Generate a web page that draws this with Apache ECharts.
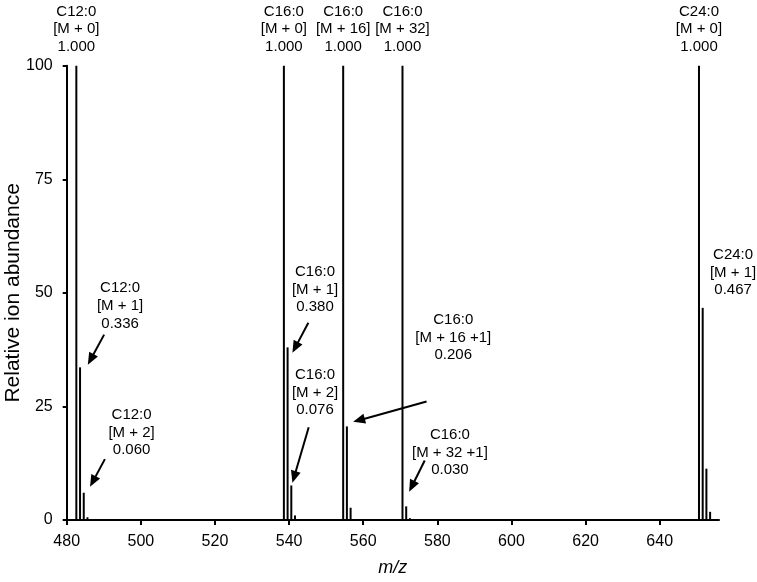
<!DOCTYPE html>
<html><head><meta charset="utf-8">
<script src="https://cdn.jsdelivr.net/npm/echarts@6/dist/echarts.min.js"></script>
<style>html,body{margin:0;padding:0;background:#fff}#c{width:757px;height:582px}</style>
</head><body><div id="c"></div>
<script>
// peak m/z positions
const mzValues = [482.6, 483.6, 484.6, 485.6, 538.6, 539.6, 540.6, 541.6, 554.6, 555.6, 556.6, 570.6, 571.6, 572.6, 650.6, 651.6, 652.6, 653.6];
// relative ion abundance (%)
const abundance = [100, 33.6, 6.0, 0.6, 100, 38.0, 7.6, 1.0, 100, 20.6, 2.7, 100, 3.0, 0.4, 100, 46.7, 11.3, 1.8];
const xTicks = [480, 500, 520, 540, 560, 580, 600, 620, 640];
const yTicks = [0, 25, 50, 75, 100];
// labels above the base peaks
const topLabels = [
  {mz: 482.6, text: 'C12:0\n[M + 0]\n1.000'},
  {mz: 538.6, text: 'C16:0\n[M + 0]\n1.000'},
  {mz: 554.6, text: 'C16:0\n[M + 16]\n1.000'},
  {mz: 570.6, text: 'C16:0\n[M + 32]\n1.000'},
  {mz: 650.6, text: 'C24:0\n[M + 0]\n1.000'}
];
// isotope annotations: text anchor (centre of first line) and arrow, in data units
const annotations = [
  {text: 'C12:0\n[M + 1]\n0.336', at: [494.4, 51.0], from: [490.1, 40.8], to: [485.7, 34.2]},
  {text: 'C12:0\n[M + 2]\n0.060', at: [497.5, 23.1], from: [490.3, 13.4], to: [486.3, 7.3]},
  {text: 'C16:0\n[M + 1]\n0.380', at: [547.0, 54.6], from: [545.2, 43.4], to: [540.9, 36.8]},
  {text: 'C16:0\n[M + 2]\n0.076', at: [547.0, 31.9], from: [545.3, 20.4], to: [540.9, 8.2]},
  {text: 'C16:0\n[M + 16 +1]\n0.206', at: [584.3, 44.0], from: [577.1, 26.1], to: [557.3, 21.6]},
  {text: 'C16:0\n[M + 32 +1]\n0.030', at: [583.4, 18.7], from: [576.6, 13.1], to: [572.4, 6.2]},
  {text: 'C24:0\n[M + 1]\n0.467', at: [659.8, 58.3]}
];

const FONT = '"Liberation Sans", Arial, sans-serif';
const LH = 17.6;
const chart = echarts.init(document.getElementById('c'), null, {renderer: 'canvas'});
chart.setOption({
  animation: false,
  backgroundColor: '#fff',
  grid: {left: 66.7, right: 38, top: 65.7, bottom: 62, containLabel: false, outerBoundsMode: 'none'},
  xAxis: {
    type: 'value', min: 480, max: 656, interval: 20,
    name: 'm/z', nameLocation: 'middle', nameGap: 39, nameMoveOverlap: false,
    nameTextStyle: {fontFamily: FONT, fontSize: 18, fontStyle: 'italic', color: '#000'},
    axisLine: {show: true, onZero: false, lineStyle: {color: '#000', width: 2}},
    axisTick: {show: true, length: 5, inside: false, customValues: xTicks, lineStyle: {color: '#000', width: 2}},
    axisLabel: {customValues: xTicks, fontFamily: FONT, fontSize: 16, color: '#000', margin: 14},
    splitLine: {show: false}
  },
  yAxis: {
    type: 'value', min: 0, max: 100, interval: 25,
    name: 'Relative ion abundance', nameLocation: 'middle', nameGap: 43, nameMoveOverlap: false,
    nameTextStyle: {fontFamily: FONT, fontSize: 21, color: '#000'},
    axisLine: {show: true, lineStyle: {color: '#000', width: 2}},
    axisTick: {show: true, length: 4, inside: false, customValues: yTicks, lineStyle: {color: '#000', width: 2}},
    axisLabel: {customValues: yTicks, fontFamily: FONT, fontSize: 16, color: '#000', margin: 14},
    splitLine: {show: false}
  },
  series: [{
    type: 'bar',
    barWidth: 2,
    itemStyle: {color: '#000'},
    data: mzValues.map((m, i) => [m, abundance[i]])
  }]
});

function px(p) { return chart.convertToPixel({gridIndex: 0}, p); }
const graphics = [];
const textStyle = (t, x, y, va) => ({
  type: 'text', x: x, y: y, silent: true,
  style: {text: t, font: '15px ' + FONT, fill: '#000', align: 'center', verticalAlign: va, lineHeight: LH}
});
topLabels.forEach(l => {
  const p = px([l.mz, 100]);
  graphics.push(textStyle(l.text, p[0], p[1] - 10, 'bottom'));
});
annotations.forEach(a => {
  const p = px(a.at);
  graphics.push(textStyle(a.text, p[0], p[1] - LH / 2, 'top'));
  if (a.from) {
    const f = px(a.from), t = px(a.to);
    const dx = t[0] - f[0], dy = t[1] - f[1];
    const len = Math.sqrt(dx * dx + dy * dy);
    const ux = dx / len, uy = dy / len;
    const hl = 12, hw = 5;
    const bx = t[0] - ux * hl, by = t[1] - uy * hl;
    graphics.push({type: 'line', silent: true, shape: {x1: f[0], y1: f[1], x2: bx + ux, y2: by + uy}, style: {stroke: '#000', lineWidth: 2}});
    graphics.push({type: 'polygon', silent: true, shape: {points: [[t[0], t[1]], [bx - uy * hw, by + ux * hw], [bx + uy * hw, by - ux * hw]]}, style: {fill: '#000'}});
  }
});
chart.setOption({graphic: graphics});
</script>
</body></html>
